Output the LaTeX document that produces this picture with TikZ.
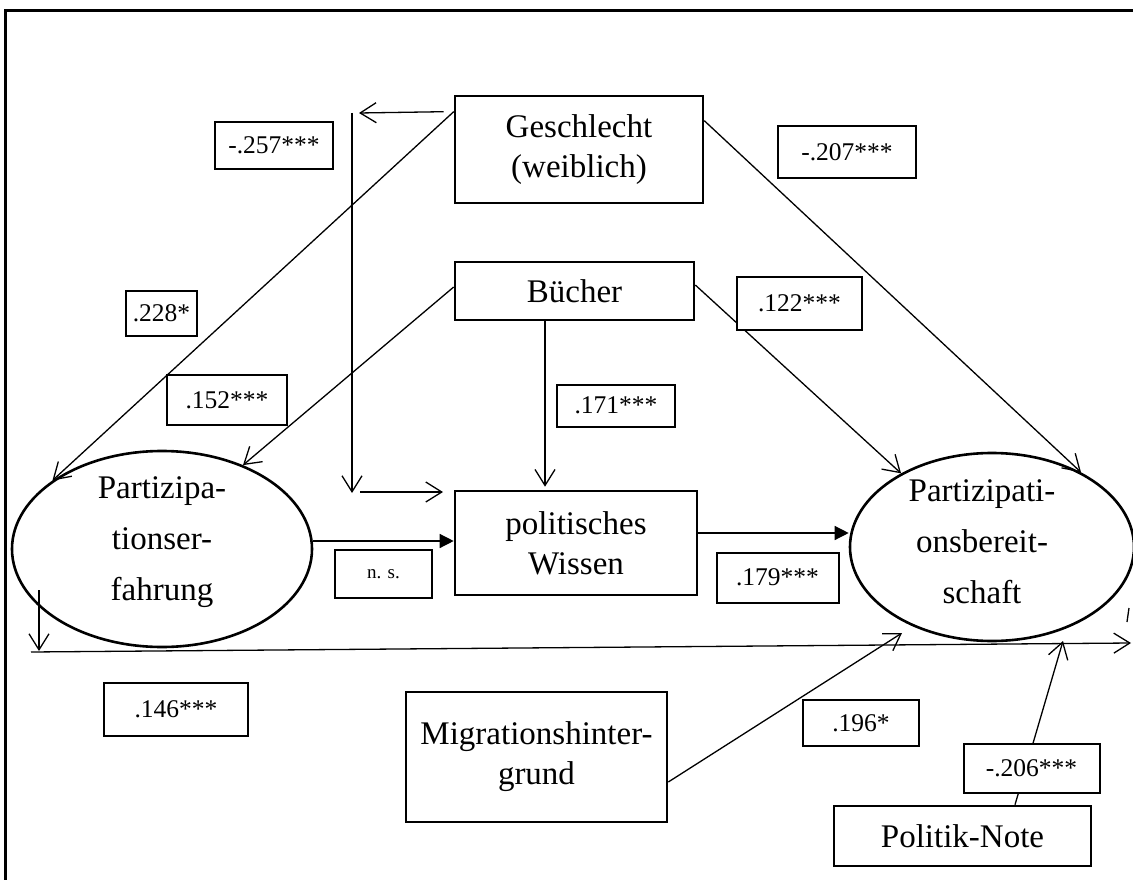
\documentclass[tikz,border=0pt]{standalone}
\usepackage{fontspec}
\setmainfont{Liberation Serif}
\usetikzlibrary{arrows.meta,shapes.geometric}
\begin{document}
\begin{tikzpicture}[x=1pt,y=-1pt,
  box/.style={draw,line width=2.6pt,inner sep=0pt,align=center,font=\fontsize{33}{40}\selectfont},
  lab/.style={draw,line width=2pt,fill=white,inner sep=0pt,font=\fontsize{25.5}{29}\selectfont},
  ell/.style={draw,ellipse,line width=2.6pt,inner sep=0pt},
  etxt/.style={align=center,inner sep=0pt,font=\fontsize{33}{51}\selectfont},
  con/.style={line width=1.3pt},
  opentip/.style={con,-{Straight Barb[length=16pt,width=20pt]}},
  filltip/.style={con,-{Triangle[length=14pt,width=14pt]}}
]
\fill[white] (0,0) rectangle (1133,880);
\useasboundingbox (0,0) rectangle (1133,880);
\draw[line width=3pt] (1133,11) -- (5,11) -- (5,880);

% main boxes
\node[box,minimum width=248pt,minimum height=107pt] (gesch) at (579,149.5) {Geschlecht\\(weiblich)};
\node[box,minimum width=239pt,minimum height=58pt] (buch) at (574.5,291) {Bücher};
\node[box,minimum width=242pt,minimum height=104pt] (wiss) at (576,543) {politisches\\Wissen};
\node[box,minimum width=261pt,minimum height=130pt] (migr) at (536.5,757) {Migrationshinter-\\grund};
\node[box,minimum width=257pt,minimum height=60pt] (note) at (962.5,836) {Politik-Note};

% ellipses
\node[ell,minimum width=300pt,minimum height=196pt] (erf) at (162,549) {};
\node[etxt] (erft) at (162,542) {Partizipa-\\tionser-\\fahrung};
\begin{scope}
\clip (0,0) rectangle (1133,880);
\node[ell,minimum width=284pt,minimum height=188pt] (ber) at (992,547) {};
\end{scope}
\node[etxt] (bert) at (982,542) {Partizipati-\\onsbereit-\\schaft};

% free ends
\coordinate (a1) at (359,113);
\coordinate (a2) at (352,113);
\coordinate (a3) at (352,493);
\coordinate (a4) at (360,492);
\coordinate (a5) at (443,492);
\coordinate (b1) at (39,590);
\coordinate (b2) at (39,651);
\coordinate (b3) at (31,652);
\coordinate (b4) at (1131,643);
\coordinate (t1) at (1129,608);
\coordinate (t2) at (1127,622);
\coordinate (m1) at (902,633);
\coordinate (p1) at (1063,641);

% connectors
\draw[opentip] ([xshift=-10pt,yshift=-17pt]gesch.north west) -- (a1);
\draw[opentip] (a2) -- (a3);
\draw[opentip] (a4) -- (a5);
\draw[opentip] ([yshift=-17pt]gesch.north west) -- (erf.148);
\draw[opentip] ([yshift=-26pt]gesch.north east) -- (ber.40);
\draw[opentip] ([yshift=4pt]buch.west) -- (erf.46);
\draw[opentip] ([yshift=6pt]buch.east) -- (ber.141);
\draw[opentip] ([xshift=-29.5pt]buch.south) -- ([xshift=-31pt,yshift=3pt]wiss.north);
\draw[filltip] ([yshift=8pt]erf.east) -- ([yshift=8pt]erf.east -| wiss.west);
\draw[filltip] ([yshift=10pt]wiss.east) -- ([yshift=10pt]wiss.east -| ber.west);
\draw[opentip] (b1) -- (b2);
\draw[opentip] (b3) -- (b4);
\draw[con] (t1) -- (t2);
\draw[opentip] ([yshift=-25pt]migr.east) -- (m1);
\draw[opentip] ([xshift=52.5pt]note.north) -- (p1);

% coefficient labels
\node[lab,minimum width=118pt,minimum height=47pt] (l257) at (274,145.5) {-.257***};
\node[lab,minimum width=138pt,minimum height=52pt] (l207) at (847,152) {-.207***};
\node[lab,minimum width=71pt,minimum height=45pt] (l228) at (161.5,313.5) {.228*};
\node[lab,minimum width=120pt,minimum height=50pt] (l152) at (227,400) {.152***};
\node[lab,minimum width=125pt,minimum height=53pt] (l122) at (799.5,303.5) {.122***};
\node[lab,minimum width=118pt,minimum height=42pt] (l171) at (616,405.5) {.171***};
\node[lab,minimum width=97pt,minimum height=48pt,font=\fontsize{19}{22}\selectfont] (lns) at (383.5,574) {n. s.};
\node[lab,minimum width=122pt,minimum height=50pt] (l179) at (777.5,577.5) {.179***};
\node[lab,minimum width=144pt,minimum height=53pt] (l146) at (176,709.5) {.146***};
\node[lab,minimum width=116pt,minimum height=46pt] (l196) at (861,723) {.196*};
\node[lab,minimum width=136pt,minimum height=49pt] (l206) at (1031.5,768) {-.206***};
\end{tikzpicture}
\end{document}
